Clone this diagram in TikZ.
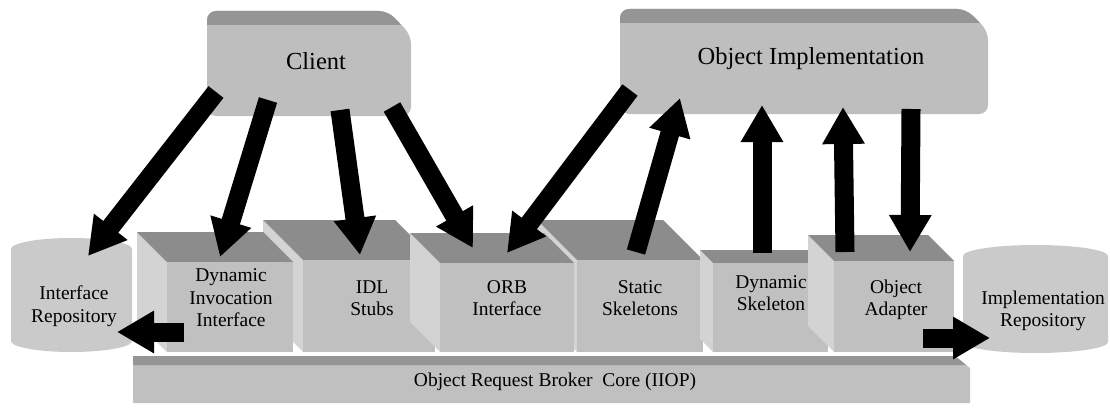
\documentclass[tikz,border=0pt]{standalone}
\usepackage{fontspec}
\setmainfont{Liberation Serif}
\usetikzlibrary{arrows.meta}
\definecolor{frontgray}{HTML}{C0C0C0}
\definecolor{topgray}{HTML}{8C8C8C}
\definecolor{sidegray}{HTML}{D3D3D3}
\definecolor{cylgray}{HTML}{CACACA}
\definecolor{boxgray}{HTML}{BEBEBE}
\definecolor{bevelgray}{HTML}{959595}
\tikzset{
  blockarrow/.style={line width=19pt, black, -{Triangle[width=40pt,length=37pt]}},
  lbl/.style={align=center, font=\fontsize{19.5}{22.5}\selectfont, inner sep=0pt},
  biglbl/.style={font=\fontsize{24.5}{28}\selectfont, inner sep=0pt},
  topface/.style={fill=topgray},
  sideface/.style={fill=sidegray},
  frontface/.style={fill=frontgray}
}
\newcommand\cubebox[4]{%
  \fill[sideface] (#1,#2) -- ({#1+#3},{#2+#3}) -- ({#1+#3},352) -- (#1,{352-#3}) -- cycle;
  \fill[topface] (#1,#2) -- ({#1+#4},#2) -- ({#1+#4+#3},{#2+#3}) -- ({#1+#3},{#2+#3}) -- cycle;
  \fill[frontface] ({#1+#3},{#2+#3}) rectangle ({#1+#3+#4},352);
}
\begin{document}
\begin{tikzpicture}[x=1pt,y=-1pt]
\useasboundingbox (0,0) rectangle (1110,412);

% Client box
\fill[boxgray, rounded corners=9pt] (207,11) -- (388,11) -- (411,35) -- (411,116) -- (207,116) -- cycle;
\begin{scope}
  \clip[rounded corners=9pt] (207,11) -- (388,11) -- (411,35) -- (411,116) -- (207,116) -- cycle;
  \fill[bevelgray] (200,5) rectangle (420,25);
\end{scope}
\node[biglbl] (client) at (316,61) {Client};

% Object Implementation box
\fill[boxgray, rounded corners=9pt] (620,9) -- (966,9) -- (988,31) -- (988,114) -- (620,114) -- cycle;
\begin{scope}
  \clip[rounded corners=9pt] (620,9) -- (966,9) -- (988,31) -- (988,114) -- (620,114) -- cycle;
  \fill[bevelgray] (610,3) rectangle (995,23);
\end{scope}
\node[biglbl] (objimpl) at (811,59) {Object Implementation};

% cubes: rear row first, then front row
\cubebox{263}{220}{40}{132}
\cubebox{537}{220}{40}{126}
\cubebox{137}{232}{30}{126}
\cubebox{410}{233}{30}{134}
\cubebox{700}{250}{13}{115}
\cubebox{808}{235}{26}{120}

\node[lbl] (dii) at (231,298) {Dynamic\\Invocation\\Interface};
\node[lbl] (idl) at (372,298) {IDL\\Stubs};
\node[lbl] (orbi) at (507,298) {ORB\\Interface};
\node[lbl] (ssk) at (640,298) {Static\\Skeletons};
\node[lbl] (dsk) at (771,293) {Dynamic\\Skeleton};
\node[lbl] (oa) at (896,300) {Object\\Adapter};

% core bar
\fill[frontgray] (133,356) -- (955,356) -- (970,368) -- (970,403) -- (133,403) -- cycle;
\fill[bevelgray] (133,356) -- (955,356) -- (966,365) -- (133,365) -- cycle;
\node[lbl] (core) at (555,382) {Object Request Broker\ \ Core (IIOP)};

% repositories
\fill[cylgray] (11,249) arc[start angle=180, end angle=360, x radius=60.5, y radius=11]
  -- (132,341) arc[start angle=0, end angle=180, x radius=60.5, y radius=11] -- cycle;
\node[lbl] (ir) at (74,306) {Interface\\Repository};
\fill[cylgray] (963,256) arc[start angle=180, end angle=360, x radius=72.5, y radius=11]
  -- (1108,342) arc[start angle=0, end angle=180, x radius=72.5, y radius=11] -- cycle;
\node[lbl] (implrep) at (1043,311) {Implementation\\Repository};

% arrow end points
\coordinate (a1s) at (216,92);  \coordinate (a1e) at (88,256);
\coordinate (a2s) at (268,100); \coordinate (a2e) at (220,257);
\coordinate (a3s) at (340,110); \coordinate (a3e) at (360,255);
\coordinate (a4s) at (392,107); \coordinate (a4e) at (473,248);
\coordinate (a5s) at (630,90);  \coordinate (a5e) at (507,253);
\coordinate (a6s) at (636,252); \coordinate (a6e) at (680,98);
\coordinate (a7s) at (762,253); \coordinate (a7e) at (762,105);
\coordinate (a8s) at (845,252); \coordinate (a8e) at (843,107);
\coordinate (a9s) at (911,109); \coordinate (a9e) at (910,252);
\coordinate (a10s) at (184,332); \coordinate (a10e) at (117,332);
\coordinate (a11s) at (923,338); \coordinate (a11e) at (990,338);

\foreach \i in {1,...,11} {\draw[blockarrow] (a\i s) -- (a\i e);}
\end{tikzpicture}
\end{document}
